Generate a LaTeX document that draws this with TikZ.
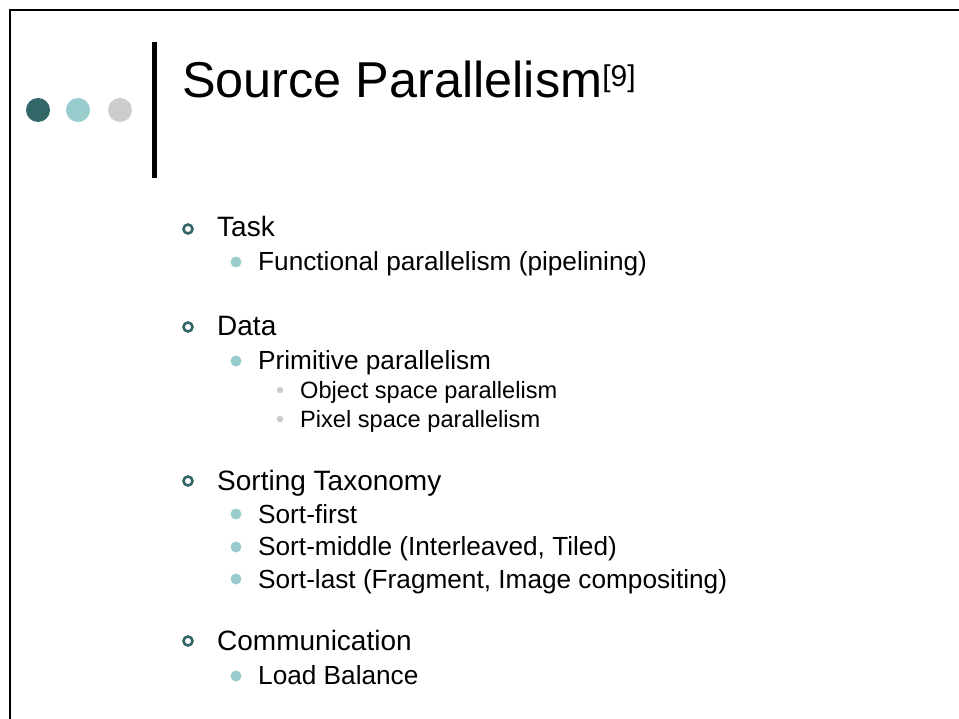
\documentclass[tikz,border=0pt]{standalone}
\usepackage{fontspec}
\setmainfont{Liberation Sans}
\definecolor{tealdark}{HTML}{336666}
\definecolor{teallight}{HTML}{99CCCC}
\definecolor{greylight}{HTML}{CCCCCC}
\begin{document}
\begin{tikzpicture}[x=1pt,y=-1pt,
  lvlone/.style={anchor=base west,inner sep=0pt,font=\fontsize{28}{33}\selectfont},
  lvltwo/.style={anchor=base west,inner sep=0pt,font=\fontsize{26.2}{31}\selectfont},
  lvlthree/.style={anchor=base west,inner sep=0pt,font=\fontsize{23.6}{28}\selectfont},
  ringbullet/.style={circle,draw=tealdark,line width=2.6pt,minimum size=9pt,inner sep=0pt},
  dotbullet/.style={circle,fill=teallight,minimum size=11pt,inner sep=0pt},
  smallbullet/.style={circle,fill=greylight,minimum size=6.5pt,inner sep=0pt}]
\useasboundingbox (0,0) rectangle (959,719);
\fill[white] (0,0) rectangle (959,719);
% slide frame (top and left edges)
\draw[line width=1.6pt] (10,719) -- (10,10) -- (959,10);
% decorative dots and title bar
\fill[tealdark] (38,110) circle (12);
\fill[teallight] (78,110) circle (12);
\fill[greylight] (120,110) circle (12);
\fill[black] (152,42) rectangle (156.5,178);
% title
\node[anchor=base west,inner sep=0pt,font=\fontsize{50.4}{60}\selectfont] (title) at (182,98)
  {Source Parallelism\raisebox{11pt}{\fontsize{30}{36}\selectfont[9]}};
% Task
\node[ringbullet] (b1) at (188,229) {};
\node[lvlone] (t1) at (217,237) {Task};
\node[dotbullet] (b11) at (236,262) {};
\node[lvltwo] (t11) at (258,271) {Functional parallelism (pipelining)};
% Data
\node[ringbullet] (b2) at (188,327) {};
\node[lvlone] (t2) at (217,336) {Data};
\node[dotbullet] (b21) at (236,361) {};
\node[lvltwo] (t21) at (258,370) {Primitive parallelism};
\node[smallbullet] (b211) at (280,390) {};
\node[lvlthree] (t211) at (300,399) {Object space parallelism};
\node[smallbullet] (b212) at (280,419) {};
\node[lvlthree] (t212) at (300,428) {Pixel space parallelism};
% Sorting Taxonomy
\node[ringbullet] (b3) at (188,481) {};
\node[lvlone] (t3) at (217,490) {Sorting Taxonomy};
\node[dotbullet] (b31) at (236,514) {};
\node[lvltwo] (t31) at (258,523) {Sort-first};
\node[dotbullet] (b32) at (236,547) {};
\node[lvltwo] (t32) at (258,555) {Sort-middle (Interleaved, Tiled)};
\node[dotbullet] (b33) at (236,579) {};
\node[lvltwo] (t33) at (258,588) {Sort-last (Fragment, Image compositing)};
% Communication
\node[ringbullet] (b4) at (188,641) {};
\node[lvlone] (t4) at (217,650) {Communication};
\node[dotbullet] (b41) at (236,676) {};
\node[lvltwo] (t41) at (258,684) {Load Balance};
\end{tikzpicture}
\end{document}
